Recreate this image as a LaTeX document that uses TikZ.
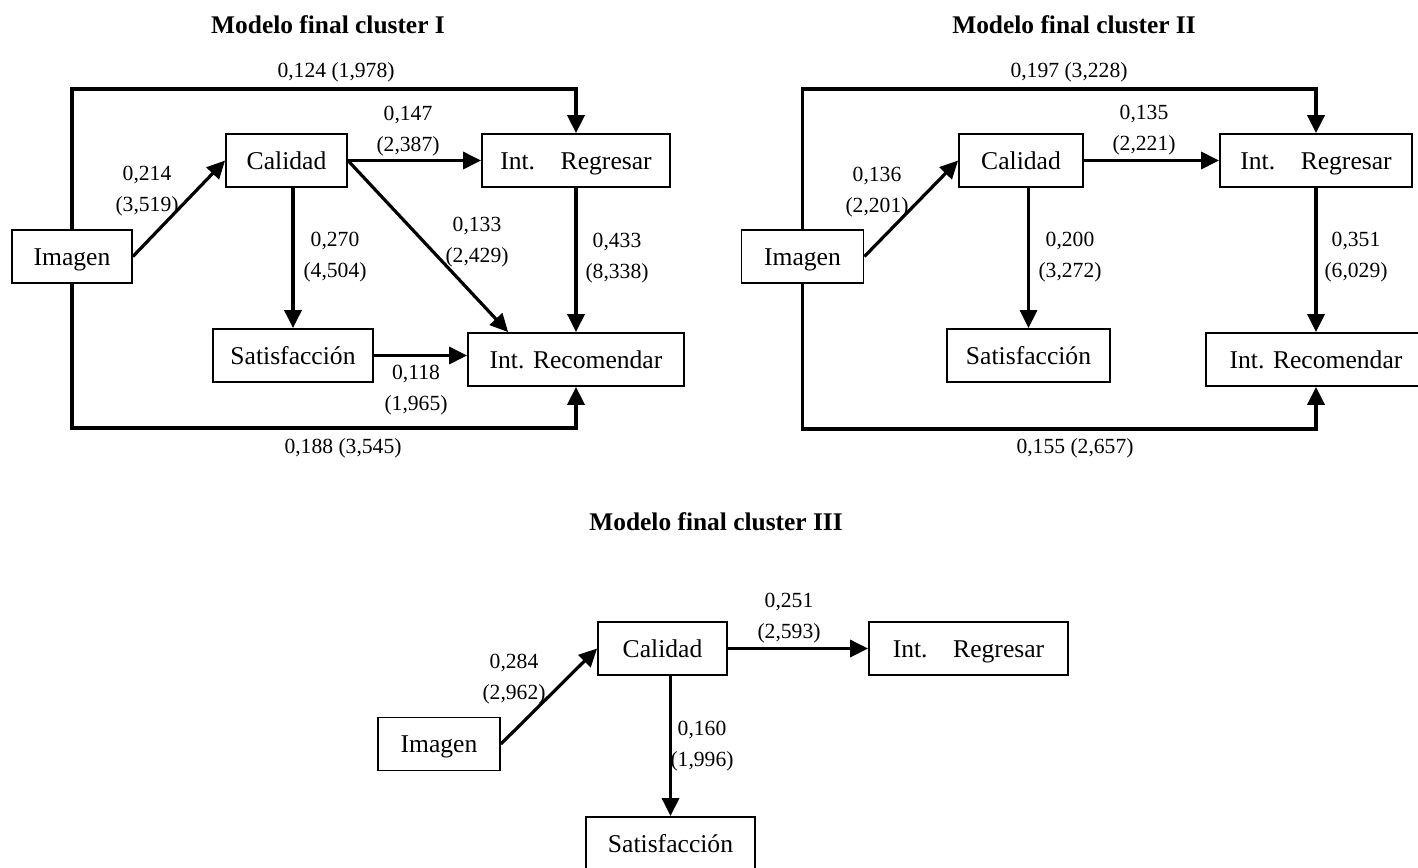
\documentclass[tikz,border=0pt]{standalone}
\usepackage{fontspec}
\setmainfont{Liberation Serif}
\usetikzlibrary{arrows.meta}
\tikzset{
  box/.style={draw, line width=0.9pt, inner sep=0pt, minimum height=26.5pt, text height=8.5pt, text depth=0pt, font=\fontsize{12.8}{15}\selectfont},
  arr/.style={-{Triangle[length=9pt,width=8.5pt]}, line width=1.6pt},
  frame/.style={arr, line width=1.9pt},
  lab/.style={align=center, inner sep=0pt, font=\fontsize{10.8}{15.5}\selectfont},
  ttl/.style={inner sep=0pt, font=\fontsize{12.7}{15}\selectfont\bfseries},
}
\begin{document}
\begin{tikzpicture}[x=0.5pt,y=-0.5pt]
\path[use as bounding box, clip] (0,0) rectangle (1418,867);

% ---- cluster I -------------------------------------------------------------
\node[ttl] (t1) at (328,25) {Modelo final cluster I};
\node[box, minimum width=60pt]   (img1) at (72,256.5)    {Imagen};
\node[box, minimum width=60.5pt] (cal1) at (286.5,160.5) {Calidad};
\node[box, minimum width=94pt]   (ret1) at (576,160.5)   {Int.\quad Regresar};
\node[box, minimum width=80pt]   (sat1) at (293,355.5)   {Satisfacción};
\node[box, minimum width=108pt]  (rec1) at (576,359.5)   {Int. Recomendar};
\coordinate (top1) at (0,89);
\coordinate (bot1) at (0,428);
\draw[arr] (img1.east) -- (cal1.west);
\draw[arr] (cal1.east) -- (ret1.west);
\draw[arr] (cal1.south -| sat1.north) -- (sat1.north);
\draw[arr] (cal1.east) -- (rec1.158);
\draw[arr] (ret1.south) -- (rec1.north);
\draw[arr] (sat1.east) -- (sat1.east -| rec1.west);
\draw[frame] (img1.north) |- (ret1.north |- top1) -- (ret1.north);
\draw[frame] (img1.south) |- (rec1.south |- bot1) -- (rec1.south);
\node[lab] (a1) at (336,72)    {0,124 (1,978)};
\node[lab] (b1) at (408,131)   {0,147\\(2,387)};
\node[lab] (c1) at (147,191)   {0,214\\(3,519)};
\node[lab] (d1) at (335,257.5) {0,270\\(4,504)};
\node[lab] (e1) at (477,242)   {0,133\\(2,429)};
\node[lab] (f1) at (617,258)   {0,433\\(8,338)};
\node[lab] (g1) at (416,390)   {0,118\\(1,965)};
\node[lab] (h1) at (343,448)   {0,188 (3,545)};

% ---- cluster II ------------------------------------------------------------
\node[ttl] (t2) at (1074,25) {Modelo final cluster II};
\node[box, minimum width=61pt]  (img2) at (802.5,256.5) {Imagen};
\node[box, minimum width=62pt]  (cal2) at (1021,160.5)  {Calidad};
\node[box, minimum width=96pt]  (ret2) at (1316,160.5)  {Int.\quad Regresar};
\node[box, minimum width=81.5pt] (sat2) at (1028.5,355.5) {Satisfacción};
\node[box, minimum width=110pt] (rec2) at (1316,359.5)  {Int. Recomendar};
\coordinate (top2) at (0,89);
\coordinate (bot2) at (0,429);
\draw[arr] (img2.east) -- (cal2.west);
\draw[arr] (cal2.east) -- (ret2.west);
\draw[arr] (cal2.south -| sat2.north) -- (sat2.north);
\draw[arr] (ret2.south) -- (rec2.north);
\draw[frame] (img2.north) |- (ret2.north |- top2) -- (ret2.north);
\draw[frame] (img2.south) |- (rec2.south |- bot2) -- (rec2.south);
\node[lab] (a2) at (1069,72)    {0,197 (3,228)};
\node[lab] (b2) at (1144,130)   {0,135\\(2,221)};
\node[lab] (c2) at (877,192)    {0,136\\(2,201)};
\node[lab] (d2) at (1070,257)   {0,200\\(3,272)};
\node[lab] (e2) at (1356,257.5) {0,351\\(6,029)};
\node[lab] (f2) at (1075,448)   {0,155 (2,657)};

% ---- cluster III -----------------------------------------------------------
\node[ttl] (t3) at (716,522) {Modelo final cluster III};
\node[box, minimum width=61pt]   (img3) at (439,744)     {Imagen};
\node[box, minimum width=64.5pt] (cal3) at (662.5,648.5) {Calidad};
\node[box, minimum width=99.5pt] (ret3) at (968.5,648.5) {Int.\quad Regresar};
\node[box, minimum width=84.5pt] (sat3) at (670.5,843.5) {Satisfacción};
\draw[arr] (img3.east) -- (cal3.west);
\draw[arr] (cal3.east) -- (ret3.west);
\draw[arr] (cal3.south -| sat3.north) -- (sat3.north);
\node[lab] (a3) at (514,679)   {0,284\\(2,962)};
\node[lab] (b3) at (702,746.5) {0,160\\(1,996)};
\node[lab] (c3) at (789,618)   {0,251\\(2,593)};

\end{tikzpicture}
\end{document}
